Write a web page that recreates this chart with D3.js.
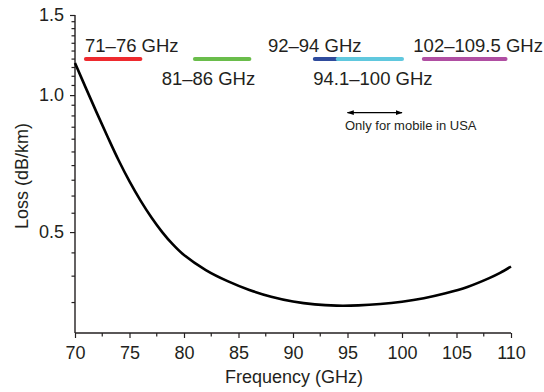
<!DOCTYPE html>
<html>
<head>
<meta charset="utf-8">
<script src="https://cdn.jsdelivr.net/npm/d3@7"></script>
<style>
  html, body { margin: 0; padding: 0; background: #fff; }
  svg text { font-family: "Liberation Sans", Arial, Helvetica, sans-serif; fill: #231f20; }
</style>
</head>
<body>
<svg id="chart" width="544" height="392"></svg>
<script>
// ---- data ----
const freq = [70, 71, 72, 73, 74, 75, 76, 77, 78, 79, 80, 82, 84, 86, 88, 90, 92, 94, 96, 98, 100, 102, 104, 106, 108, 109, 110];
const loss = [1.1765, 1.036, 0.914, 0.809, 0.719, 0.646, 0.587, 0.539, 0.500, 0.469, 0.445, 0.4125, 0.390, 0.373, 0.3604, 0.3518, 0.3467, 0.3446, 0.345, 0.3473, 0.3515, 0.3578, 0.3668, 0.3787, 0.396, 0.4066, 0.420];

const xTicks = [70, 75, 80, 85, 90, 95, 100, 105, 110];
const xMinorTicks = [72.5, 77.5, 82.5, 87.5, 92.5, 97.5, 102.5, 107.5];
const yTicks = [0.5, 1.0, 1.5];
const yMinorTicks = [0.35, 0.4, 0.45, 0.55, 0.6, 0.65, 0.7, 0.75, 0.8, 0.85, 0.9, 0.95, 1.05, 1.1, 1.15, 1.2, 1.25, 1.3, 1.35, 1.4, 1.45];

const bandStart = [71, 81, 92, 94.1, 102];
const bandEnd   = [76, 86, 94, 100, 109.5];
const bandColor = ["#ee2a2e", "#6abd4b", "#2f4b9c", "#60c8de", "#b04ea2"];
const bandLevel = 1.2;

const labelText = ["71–76 GHz", "81–86 GHz", "92–94 GHz", "94.1–100 GHz", "102–109.5 GHz"];
const labelX    = [70.92, 77.95, 87.7, 91.86, 101.04];
const labelRow  = ["above", "below", "above", "below", "above"];

const arrowFrom = 95, arrowTo = 100, arrowLevel = 0.915;
const noteText = "Only for mobile in USA";
const noteX = 94.77;

// ---- chart ----
const svg = d3.select("#chart");
const x = d3.scaleLinear().domain([70, 110]).range([75, 511]);
const y = d3.scaleLog().domain([0.3, 1.5]).range([333, 15]);

const axisColor = "#231f20";

// x axis
const gx = svg.append("g").attr("transform", `translate(0,${y(0.3)})`);
gx.call(d3.axisBottom(x).tickValues(xTicks).tickFormat(d3.format("d")).tickSize(5).tickPadding(8))
  .call(g => g.select(".domain").attr("stroke", axisColor).attr("stroke-width", 1.4).attr("d", `M${x(70)},0H${x(110)}`))
  .call(g => g.selectAll(".tick line").attr("stroke", axisColor).attr("stroke-width", 1.2))
  .call(g => g.selectAll(".tick text").attr("font-size", 18).attr("fill", axisColor)
        .attr("font-family", "Liberation Sans, Arial, sans-serif"));
gx.selectAll(".minor").data(xMinorTicks).join("line")
  .attr("x1", d => x(d)).attr("x2", d => x(d)).attr("y1", 0).attr("y2", 3.5)
  .attr("stroke", axisColor).attr("stroke-width", 1.2);

// y axis
const gy = svg.append("g").attr("transform", `translate(${x(70)},0)`);
gy.call(d3.axisLeft(y).tickValues(yTicks).tickFormat(d3.format(".1f")).tickSize(5).tickPadding(6))
  .call(g => g.select(".domain").attr("stroke", axisColor).attr("stroke-width", 1.4).attr("d", `M0,${y(1.5)}V${y(0.3)}`))
  .call(g => g.selectAll(".tick line").attr("stroke", axisColor).attr("stroke-width", 1.2))
  .call(g => g.selectAll(".tick text").attr("font-size", 18).attr("fill", axisColor)
        .attr("font-family", "Liberation Sans, Arial, sans-serif"));
gy.selectAll(".minor").data(yMinorTicks).join("line")
  .attr("x1", -3.5).attr("x2", 0).attr("y1", d => y(d)).attr("y2", d => y(d))
  .attr("stroke", axisColor).attr("stroke-width", 1.2);

// axis titles
svg.append("text")
  .attr("x", (x(70) + x(110)) / 2 + 1).attr("y", 383)
  .attr("text-anchor", "middle").attr("font-size", 18)
  .text("Frequency (GHz)");
svg.append("text")
  .attr("transform", `translate(28,${(y(0.3) + y(1.5)) / 2 + 2}) rotate(-90)`)
  .attr("text-anchor", "middle").attr("font-size", 18)
  .text("Loss (dB/km)");

// curve
const pts = freq.map((f, i) => [f, loss[i]]);
svg.append("path")
  .datum(pts)
  .attr("fill", "none").attr("stroke", "#000").attr("stroke-width", 2.6)
  .attr("stroke-linejoin", "round")
  .attr("d", d3.line().x(d => x(d[0])).y(d => y(d[1])).curve(d3.curveCatmullRom));

// bands
svg.append("g").selectAll("line").data(bandStart).join("line")
  .attr("x1", (d, i) => x(bandStart[i])).attr("x2", (d, i) => x(bandEnd[i]))
  .attr("y1", y(bandLevel)).attr("y2", y(bandLevel))
  .attr("stroke", (d, i) => bandColor[i]).attr("stroke-width", 4)
  .attr("stroke-linecap", "round");

// band labels
svg.append("g").selectAll("text").data(labelText).join("text")
  .attr("x", (d, i) => x(labelX[i]))
  .attr("y", (d, i) => y(bandLevel) + (labelRow[i] === "above" ? -7 : 26))
  .attr("font-size", 18.5)
  .text(d => d);

// arrow
const defs = svg.append("defs");
defs.append("marker").attr("id", "ah").attr("viewBox", "0 0 10 10")
  .attr("refX", 9).attr("refY", 5).attr("markerWidth", 7).attr("markerHeight", 7)
  .attr("orient", "auto-start-reverse").attr("markerUnits", "userSpaceOnUse")
  .append("path").attr("d", "M0,1.5L10,5L0,8.5Z").attr("fill", "#000");
svg.append("line")
  .attr("x1", x(arrowFrom)).attr("x2", x(arrowTo))
  .attr("y1", y(arrowLevel)).attr("y2", y(arrowLevel))
  .attr("stroke", "#000").attr("stroke-width", 1.1)
  .attr("marker-start", "url(#ah)").attr("marker-end", "url(#ah)");
svg.append("text")
  .attr("x", x(noteX)).attr("y", y(arrowLevel) + 17)
  .attr("font-size", 13)
  .text(noteText);
</script>
</body>
</html>
